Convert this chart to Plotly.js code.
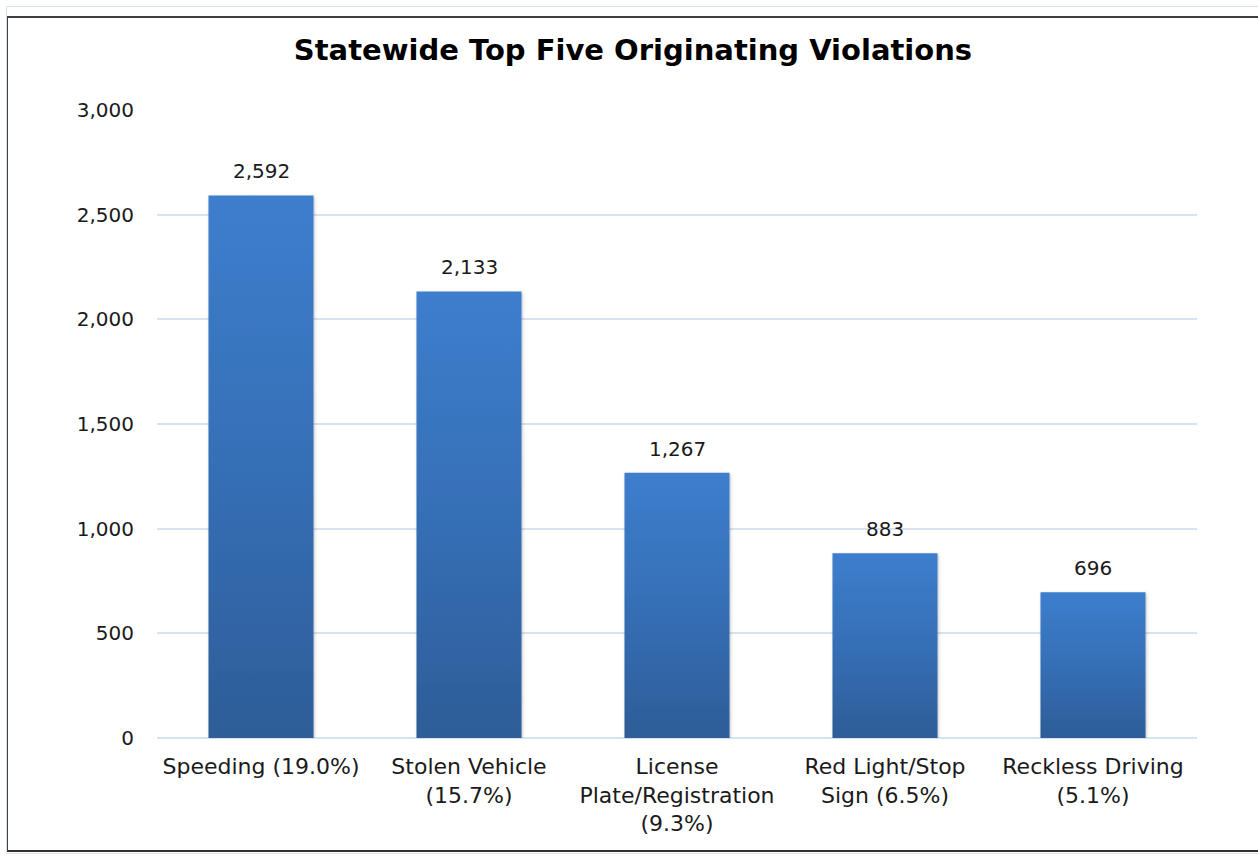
<!DOCTYPE html>
<html>
<head>
<meta charset="utf-8">
<script src="https://cdn.plot.ly/plotly-3.0.1.min.js"></script>
<style>
  html, body { margin: 0; padding: 0; background: #ffffff; }
  #wrap { position: relative; width: 1258px; height: 861px; overflow: hidden; }
  #outer { position: absolute; left: 6px; top: 6px; width: 1300px; height: 848px; border: 1px solid #d6e3f3; box-sizing: border-box; }
  #frame { position: absolute; left: 7px; top: 16px; width: 1300px; height: 836px; border-top: 2px solid #404040; border-left: 1px solid #404040; border-bottom: 2px solid #303030; box-sizing: border-box; }
  #chart { position: absolute; left: 0; top: 0; width: 1258px; height: 861px; }
</style>
</head>
<body>
<div id="wrap">
  <div id="outer"></div>
  <div id="frame"></div>
  <div id="chart"></div>
</div>
<script>
const categories = [
  "Speeding (19.0%)",
  "Stolen Vehicle<br>(15.7%)",
  "License<br>Plate/Registration<br>(9.3%)",
  "Red Light/Stop<br>Sign (6.5%)",
  "Reckless Driving<br>(5.1%)"
];
const counts = [2592, 2133, 1267, 883, 696];
const yTicks = [0, 500, 1000, 1500, 2000, 2500, 3000];
const chartTitle = "Statewide Top Five Originating Violations";

const FONT = "'Century Gothic', 'URW Gothic', 'DejaVu Sans', sans-serif";

const trace = {
  type: "bar",
  x: categories,
  y: counts,
  marker: { color: "#3671b8", line: { width: 0 } },
  hoverinfo: "none"
};

const annotations = categories.map((c, i) => ({
  x: c, y: counts[i], xref: "x", yref: "y",
  text: counts[i].toLocaleString("en-US"),
  showarrow: false, yanchor: "bottom", yshift: 10,
  font: { family: FONT, size: 20, color: "#1a1a1a" }
}));

const layout = {
  width: 1258, height: 861,
  margin: { l: 157, r: 61, t: 110, b: 123 },
  paper_bgcolor: "rgba(0,0,0,0)",
  plot_bgcolor: "rgba(0,0,0,0)",
  title: {
    text: "<b>" + chartTitle + "</b>",
    font: { family: FONT, size: 29, color: "#000000" },
    x: 633/1258, xanchor: "center", y: 1 - 50/861, yanchor: "middle", xref: "container"
  },
  bargap: 0.495,
  showlegend: false,
  font: { family: FONT, color: "#1a1a1a" },
  xaxis: {
    tickangle: 0,
    tickfont: { family: FONT, size: 22, color: "#1a1a1a" },
    showline: false, showgrid: false, zeroline: false,
    ticks: "", ticklen: 0, ticklabelstandoff: 13
  },
  yaxis: {
    range: [0, 3000],
    tickvals: yTicks,
    tickformat: ",d",
    tickfont: { family: FONT, size: 20, color: "#1a1a1a" },
    showgrid: true, gridcolor: "#d6e3f3", gridwidth: 2,
    zeroline: true, zerolinecolor: "#d6e3f3", zerolinewidth: 2,
    showline: false, ticks: "", ticklabelstandoff: 22
  },
  annotations: annotations
};

Plotly.newPlot("chart", [trace], layout, { displayModeBar: false, staticPlot: true }).then(gd => {
  const svg = gd.querySelector(".main-svg");
  const ns = "http://www.w3.org/2000/svg";
  let defs = svg.querySelector("defs");
  if (!defs) { defs = document.createElementNS(ns, "defs"); svg.insertBefore(defs, svg.firstChild); }
  const grad = document.createElementNS(ns, "linearGradient");
  grad.setAttribute("id", "barGrad");
  grad.setAttribute("x1", "0"); grad.setAttribute("y1", "0");
  grad.setAttribute("x2", "0"); grad.setAttribute("y2", "1");
  [["0", "#3d7ecd"], ["0.5", "#366fb6"], ["1", "#2d5d98"]].forEach(([o, c]) => {
    const s = document.createElementNS(ns, "stop");
    s.setAttribute("offset", o); s.setAttribute("stop-color", c);
    grad.appendChild(s);
  });
  defs.appendChild(grad);
  const filt = document.createElementNS(ns, "filter");
  filt.setAttribute("id", "barShadow");
  filt.setAttribute("x", "-10%"); filt.setAttribute("y", "-5%");
  filt.setAttribute("width", "120%"); filt.setAttribute("height", "110%");
  filt.innerHTML = '<feDropShadow dx="1" dy="1" stdDeviation="1.5" flood-color="#000" flood-opacity="0.25"/>';
  defs.appendChild(filt);
  gd.querySelectorAll(".trace.bars .point path").forEach(p => {
    p.style.fill = "url(#barGrad)";
    p.setAttribute("filter", "url(#barShadow)");
  });
});
</script>
</body>
</html>
